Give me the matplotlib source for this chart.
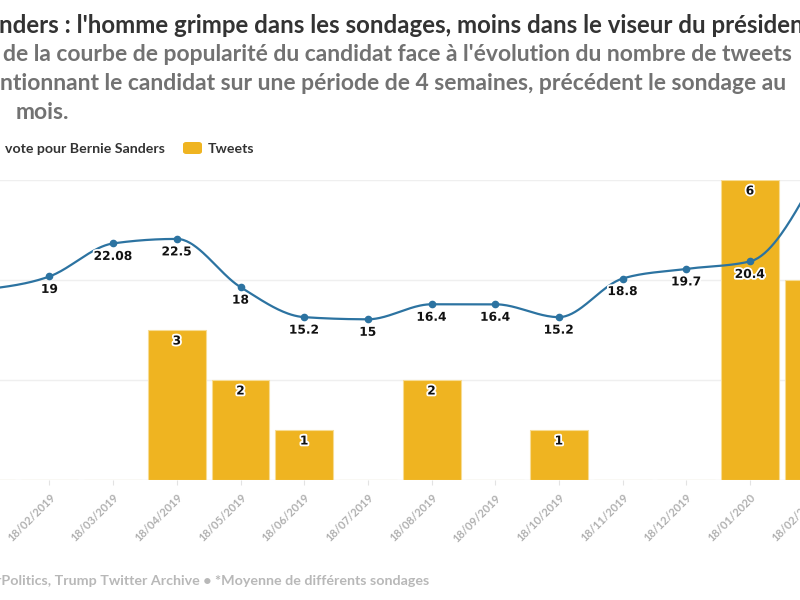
import numpy as np
import matplotlib
matplotlib.use("Agg")
import matplotlib.pyplot as plt
import matplotlib.patheffects as pe
from matplotlib.patches import FancyBboxPatch

# ---------------- data ----------------
dates = ["18/01/2019", "18/02/2019", "18/03/2019", "18/04/2019", "18/05/2019",
         "18/06/2019", "18/07/2019", "18/08/2019", "18/09/2019", "18/10/2019",
         "18/11/2019", "18/12/2019", "18/01/2020", "18/02/2020"]
poll = [17.8, 19, 22.08, 22.5, 18, 15.2, 15, 16.4, 16.4, 15.2, 18.8, 19.7, 20.4, 28.0]
tweets = [0, 0, 0, 3, 2, 1, 0, 2, 0, 1, 0, 0, 6, 4]

title = "nders : l'homme grimpe dans les sondages, moins dans le viseur du présiden"
subtitle = ["de la courbe de popularité du candidat face à l'évolution du nombre de tweets",
            "ntionnant le candidat sur une période de 4 semaines, précédent le sondage au",
            "mois."]
legend_line = "vote pour Bernie Sanders"
legend_bar = "Tweets"
footer = "rPolitics, Trump Twitter Archive • *Moyenne de différents sondages"

YELLOW = "#efb421"
BLUE = "#2c73a1"
FONT = ["Lato", "DejaVu Sans"]

W, H = 800, 600
fig = plt.figure(figsize=(8, 6), dpi=100)
fig.patch.set_facecolor("white")

ax_top, ax_bot = 180, 480
ax = fig.add_axes([0, 1 - ax_bot / H, 1, (ax_bot - ax_top) / H])
ax2 = ax.twinx()

x = np.arange(len(dates))
step = 63.68
x0px = -14.2

for a in (ax, ax2):
    for s in a.spines.values():
        s.set_visible(False)
    a.set_yticks([])
ax.patch.set_alpha(0)

for g in [0, 2, 4, 6]:
    ax.axhline(g, color="#e6e6e6" if g == 0 else "#efefef", lw=1, zorder=0)

ax.bar(x, tweets, width=0.91, color=YELLOW, edgecolor="#f7dc94", linewidth=0.8, zorder=2)
stroke = [pe.withStroke(linewidth=2.6, foreground="white")]
for xi, v in zip(x, tweets):
    if v > 0:
        ax.annotate(str(v), (xi, v), xytext=(0, -11), textcoords="offset pixels",
                    ha="center", va="center", fontsize=8.8, fontweight="bold",
                    family="DejaVu Sans", color="#111111", path_effects=stroke, zorder=5)

def monotone(xs, ys, n=40):
    xs = np.asarray(xs, float); ys = np.asarray(ys, float)
    h = np.diff(xs); s = np.diff(ys) / h
    m = np.zeros(len(xs))
    for i in range(1, len(xs) - 1):
        s0, s1 = s[i - 1], s[i]
        p = (s0 * h[i] + s1 * h[i - 1]) / (h[i - 1] + h[i])
        m[i] = (np.sign(s0) + np.sign(s1)) * min(abs(s0), abs(s1), 0.5 * abs(p))
    m[0] = (3 * s[0] - m[1]) / 2
    m[-1] = (3 * s[-1] - m[-2]) / 2
    X, Y = [], []
    for i in range(len(xs) - 1):
        t = np.linspace(0, 1, n)
        h00 = 2 * t**3 - 3 * t**2 + 1
        h10 = t**3 - 2 * t**2 + t
        h01 = -2 * t**3 + 3 * t**2
        h11 = t**3 - t**2
        X.append(xs[i] + t * h[i])
        Y.append(h00 * ys[i] + h10 * h[i] * m[i] + h01 * ys[i + 1] + h11 * h[i] * m[i + 1])
    return np.concatenate(X), np.concatenate(Y)

cx, cy = monotone(x, poll)
ax2.plot(cx, cy, color=BLUE, lw=1.6, zorder=3, solid_capstyle="round")
ax2.plot(x, poll, "o", color=BLUE, ms=4.5, zorder=4)
for xi, v in zip(x, poll):
    ax2.annotate(f"{v:g}", (xi, v), xytext=(0, -13), textcoords="offset pixels",
                 ha="center", va="center", fontsize=8.8, fontweight="bold",
                 family="DejaVu Sans", color="#111111", path_effects=stroke, zorder=6,
                 annotation_clip=False)

# x ticks: marks via axis, labels drawn as annotations so edge labels stay (partly) visible
ax.set_xticks(x)
ax.set_xticklabels([])
ax.tick_params(axis="x", length=3.6, width=0.8, color="#e3e3e3")
ax2.tick_params(axis="x", length=0, labelbottom=False)
for xi, lab in zip(x, dates):
    ax.annotate(lab, (xi, 0), xycoords=("data", "axes fraction"), xytext=(4, -16),
                textcoords="offset pixels", rotation=45, rotation_mode="anchor",
                ha="right", va="center", fontsize=8.0, color="#b0b0b0",
                family=FONT, fontweight="bold", annotation_clip=False)

# limits last (set_xticks / shared autoscale would expand them)
xl = ((0 - x0px) / step, (W - x0px) / step)
ax.set_xlim(*xl)
ax2.set_xlim(*xl)
ax.set_ylim(0, 6)
ax2.set_ylim(0, 28)

fig.canvas.draw()
renderer = fig.canvas.get_renderer()

def fit_text(xpx, ypx, s, target_w, **kw):
    t = fig.text(xpx / W, 1 - ypx / H, s, fontsize=10, va="baseline", ha="left", **kw)
    w = t.get_window_extent(renderer).width
    fs = 10 * target_w / w
    t.set_fontsize(fs)
    return t, fs

SUBC = "#727272"
fit_text(-1, 33, title, 804, family=FONT, fontweight="bold", color="#333333")
_, fs_sub = fit_text(3, 61, subtitle[0], 792, family=FONT, fontweight="bold", color=SUBC)
fig.text(0 / W, 1 - 90 / H, subtitle[1], fontsize=fs_sub, va="baseline", family=FONT,
         fontweight="bold", color=SUBC)
fig.text(16 / W, 1 - 119 / H, subtitle[2], fontsize=fs_sub, va="baseline", family=FONT,
         fontweight="bold", color=SUBC)

_, fs_leg = fit_text(5, 153, legend_line, 160, family=FONT, fontweight="bold", color="#333333")
fig.text(208 / W, 1 - 153 / H, legend_bar, fontsize=fs_leg, va="baseline", family=FONT,
         fontweight="bold", color="#333333")
fig.patches.append(FancyBboxPatch((183 / W, 1 - 154 / H), 19 / W, 12 / H,
                                  boxstyle="round,pad=0,rounding_size=0.004",
                                  transform=fig.transFigure, facecolor=YELLOW, edgecolor="none"))

fit_text(-4, 585, footer, 434, family=FONT, fontweight="bold", color="#b8b8b8")

fig.savefig("out.png", dpi=100, facecolor="white")
